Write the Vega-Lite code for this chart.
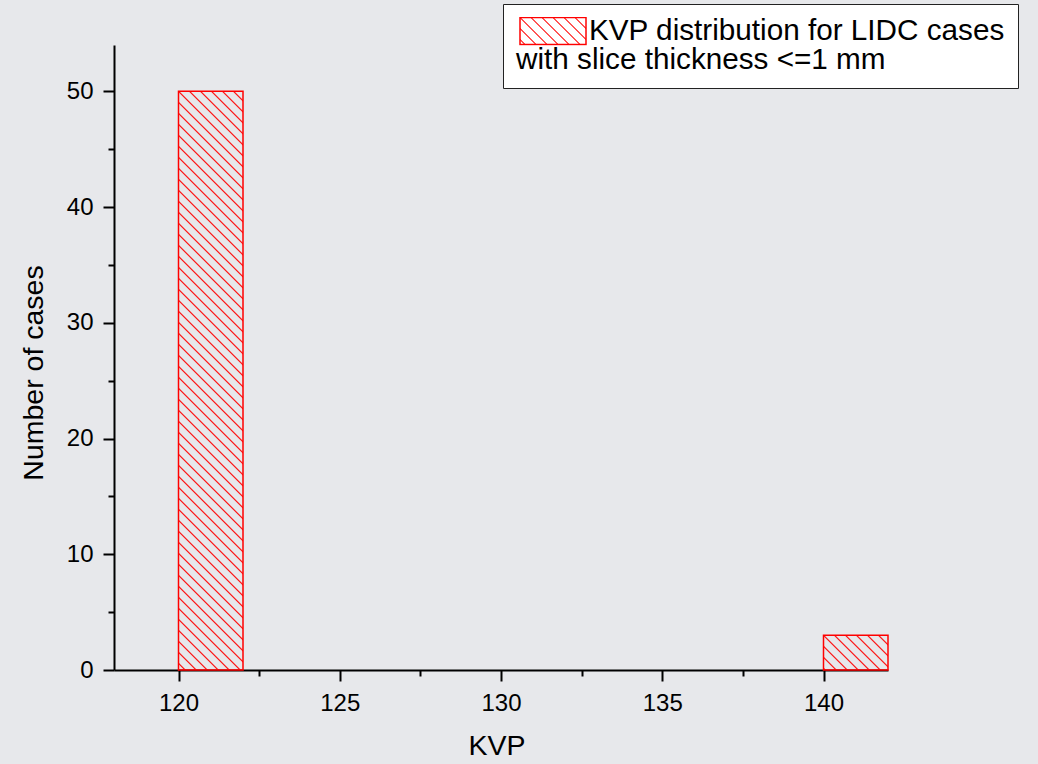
{
  "$schema": "https://vega.github.io/schema/vega-lite/v6.json",
  "width": 774,
  "height": 625,
  "autosize": {"type": "none"},
  "padding": {"left": 114, "top": 45, "right": 150, "bottom": 94},
  "background": "#e7e8eb",
  "config": {"view": {"stroke": null}, "font": "Liberation Sans"},
  "data": {"values": [
    {"kvp": 120, "kvp_end": 122, "count": 50, "series": "KVP distribution for LIDC cases"},
    {"kvp": 140, "kvp_end": 142, "count": 3, "series": "KVP distribution for LIDC cases"}
  ]},
  "mark": {"type": "rect", "strokeWidth": 1.5},
  "encoding": {
    "x": {
      "field": "kvp", "type": "quantitative", "title": "KVP",
      "scale": {"domain": [118, 142], "nice": false, "zero": false},
      "axis": {
        "values": [120, 122.5, 125, 127.5, 130, 132.5, 135, 137.5, 140],
        "labelExpr": "datum.value % 5 === 0 ? datum.label : ''",
        "tickSize": {"condition": {"test": "datum.value % 5 !== 0", "value": 6}, "value": 11},
        "tickWidth": 2, "tickColor": "#000", "domainColor": "#000", "domainWidth": 2,
        "labelFontSize": 24, "labelColor": "#000", "labelPadding": 10, "labelFlush": false, "labelOverlap": false,
        "titleFontSize": 28.5, "titleFontWeight": "normal", "titleColor": "#000", "titlePadding": 16,
        "titleX": 382.5, "grid": false
      }
    },
    "x2": {"field": "kvp_end"},
    "y": {
      "field": "count", "type": "quantitative", "title": "Number of cases",
      "scale": {"domain": [0, 54], "nice": false},
      "axis": {
        "values": [0, 5, 10, 15, 20, 25, 30, 35, 40, 45, 50],
        "labelExpr": "datum.value % 10 === 0 ? datum.label : ''",
        "tickSize": {"condition": {"test": "datum.value % 10 !== 0", "value": 6}, "value": 11},
        "tickWidth": 2, "tickColor": "#000", "domainColor": "#000", "domainWidth": 2,
        "labelFontSize": 24, "labelColor": "#000", "labelPadding": 10, "labelFlush": false, "labelOverlap": false,
        "titleFontSize": 28.5, "titleFontWeight": "normal", "titleColor": "#000", "titlePadding": 18,
        "titleY": 327.5, "grid": false
      }
    },
    "y2": {"datum": 0},
    "fill": {
      "condition": [
        {"test": "datum.kvp == 120", "value": {
          "gradient": "linear", "x1": 0, "y1": 1.036807, "x2": 0.190236, "y2": -0.670005,
          "stops": [
            {"offset": 0.0265, "color": "rgba(255,0,0,0)"}, {"offset": 0.028, "color": "#ff0000"}, {"offset": 0.0295, "color": "rgba(255,0,0,0)"},
            {"offset": 0.0375, "color": "rgba(255,0,0,0)"}, {"offset": 0.039, "color": "#ff0000"}, {"offset": 0.0405, "color": "rgba(255,0,0,0)"},
            {"offset": 0.0485, "color": "rgba(255,0,0,0)"}, {"offset": 0.05, "color": "#ff0000"}, {"offset": 0.0515, "color": "rgba(255,0,0,0)"},
            {"offset": 0.0595, "color": "rgba(255,0,0,0)"}, {"offset": 0.061, "color": "#ff0000"}, {"offset": 0.0625, "color": "rgba(255,0,0,0)"},
            {"offset": 0.0705, "color": "rgba(255,0,0,0)"}, {"offset": 0.072, "color": "#ff0000"}, {"offset": 0.0735, "color": "rgba(255,0,0,0)"},
            {"offset": 0.0815, "color": "rgba(255,0,0,0)"}, {"offset": 0.083, "color": "#ff0000"}, {"offset": 0.0845, "color": "rgba(255,0,0,0)"},
            {"offset": 0.0925, "color": "rgba(255,0,0,0)"}, {"offset": 0.094, "color": "#ff0000"}, {"offset": 0.0955, "color": "rgba(255,0,0,0)"},
            {"offset": 0.1035, "color": "rgba(255,0,0,0)"}, {"offset": 0.105, "color": "#ff0000"}, {"offset": 0.1065, "color": "rgba(255,0,0,0)"},
            {"offset": 0.1145, "color": "rgba(255,0,0,0)"}, {"offset": 0.116, "color": "#ff0000"}, {"offset": 0.1175, "color": "rgba(255,0,0,0)"},
            {"offset": 0.1255, "color": "rgba(255,0,0,0)"}, {"offset": 0.127, "color": "#ff0000"}, {"offset": 0.1285, "color": "rgba(255,0,0,0)"},
            {"offset": 0.1365, "color": "rgba(255,0,0,0)"}, {"offset": 0.138, "color": "#ff0000"}, {"offset": 0.1395, "color": "rgba(255,0,0,0)"},
            {"offset": 0.1475, "color": "rgba(255,0,0,0)"}, {"offset": 0.149, "color": "#ff0000"}, {"offset": 0.1505, "color": "rgba(255,0,0,0)"},
            {"offset": 0.1585, "color": "rgba(255,0,0,0)"}, {"offset": 0.16, "color": "#ff0000"}, {"offset": 0.1615, "color": "rgba(255,0,0,0)"},
            {"offset": 0.1695, "color": "rgba(255,0,0,0)"}, {"offset": 0.171, "color": "#ff0000"}, {"offset": 0.1725, "color": "rgba(255,0,0,0)"},
            {"offset": 0.1805, "color": "rgba(255,0,0,0)"}, {"offset": 0.182, "color": "#ff0000"}, {"offset": 0.1835, "color": "rgba(255,0,0,0)"},
            {"offset": 0.1915, "color": "rgba(255,0,0,0)"}, {"offset": 0.193, "color": "#ff0000"}, {"offset": 0.1945, "color": "rgba(255,0,0,0)"},
            {"offset": 0.2025, "color": "rgba(255,0,0,0)"}, {"offset": 0.204, "color": "#ff0000"}, {"offset": 0.2055, "color": "rgba(255,0,0,0)"},
            {"offset": 0.2135, "color": "rgba(255,0,0,0)"}, {"offset": 0.215, "color": "#ff0000"}, {"offset": 0.2165, "color": "rgba(255,0,0,0)"},
            {"offset": 0.2245, "color": "rgba(255,0,0,0)"}, {"offset": 0.226, "color": "#ff0000"}, {"offset": 0.2275, "color": "rgba(255,0,0,0)"},
            {"offset": 0.2355, "color": "rgba(255,0,0,0)"}, {"offset": 0.237, "color": "#ff0000"}, {"offset": 0.2385, "color": "rgba(255,0,0,0)"},
            {"offset": 0.2465, "color": "rgba(255,0,0,0)"}, {"offset": 0.248, "color": "#ff0000"}, {"offset": 0.2495, "color": "rgba(255,0,0,0)"},
            {"offset": 0.2575, "color": "rgba(255,0,0,0)"}, {"offset": 0.259, "color": "#ff0000"}, {"offset": 0.2605, "color": "rgba(255,0,0,0)"},
            {"offset": 0.2685, "color": "rgba(255,0,0,0)"}, {"offset": 0.27, "color": "#ff0000"}, {"offset": 0.2715, "color": "rgba(255,0,0,0)"},
            {"offset": 0.2795, "color": "rgba(255,0,0,0)"}, {"offset": 0.281, "color": "#ff0000"}, {"offset": 0.2825, "color": "rgba(255,0,0,0)"},
            {"offset": 0.2905, "color": "rgba(255,0,0,0)"}, {"offset": 0.292, "color": "#ff0000"}, {"offset": 0.2935, "color": "rgba(255,0,0,0)"},
            {"offset": 0.3015, "color": "rgba(255,0,0,0)"}, {"offset": 0.303, "color": "#ff0000"}, {"offset": 0.3045, "color": "rgba(255,0,0,0)"},
            {"offset": 0.3125, "color": "rgba(255,0,0,0)"}, {"offset": 0.314, "color": "#ff0000"}, {"offset": 0.3155, "color": "rgba(255,0,0,0)"},
            {"offset": 0.3235, "color": "rgba(255,0,0,0)"}, {"offset": 0.325, "color": "#ff0000"}, {"offset": 0.3265, "color": "rgba(255,0,0,0)"},
            {"offset": 0.3345, "color": "rgba(255,0,0,0)"}, {"offset": 0.336, "color": "#ff0000"}, {"offset": 0.3375, "color": "rgba(255,0,0,0)"},
            {"offset": 0.3455, "color": "rgba(255,0,0,0)"}, {"offset": 0.347, "color": "#ff0000"}, {"offset": 0.3485, "color": "rgba(255,0,0,0)"},
            {"offset": 0.3565, "color": "rgba(255,0,0,0)"}, {"offset": 0.358, "color": "#ff0000"}, {"offset": 0.3595, "color": "rgba(255,0,0,0)"},
            {"offset": 0.3675, "color": "rgba(255,0,0,0)"}, {"offset": 0.369, "color": "#ff0000"}, {"offset": 0.3705, "color": "rgba(255,0,0,0)"},
            {"offset": 0.3785, "color": "rgba(255,0,0,0)"}, {"offset": 0.38, "color": "#ff0000"}, {"offset": 0.3815, "color": "rgba(255,0,0,0)"},
            {"offset": 0.3895, "color": "rgba(255,0,0,0)"}, {"offset": 0.391, "color": "#ff0000"}, {"offset": 0.3925, "color": "rgba(255,0,0,0)"},
            {"offset": 0.4005, "color": "rgba(255,0,0,0)"}, {"offset": 0.402, "color": "#ff0000"}, {"offset": 0.4035, "color": "rgba(255,0,0,0)"},
            {"offset": 0.4115, "color": "rgba(255,0,0,0)"}, {"offset": 0.413, "color": "#ff0000"}, {"offset": 0.4145, "color": "rgba(255,0,0,0)"},
            {"offset": 0.4225, "color": "rgba(255,0,0,0)"}, {"offset": 0.424, "color": "#ff0000"}, {"offset": 0.4255, "color": "rgba(255,0,0,0)"},
            {"offset": 0.4335, "color": "rgba(255,0,0,0)"}, {"offset": 0.435, "color": "#ff0000"}, {"offset": 0.4365, "color": "rgba(255,0,0,0)"},
            {"offset": 0.4445, "color": "rgba(255,0,0,0)"}, {"offset": 0.446, "color": "#ff0000"}, {"offset": 0.4475, "color": "rgba(255,0,0,0)"},
            {"offset": 0.4555, "color": "rgba(255,0,0,0)"}, {"offset": 0.457, "color": "#ff0000"}, {"offset": 0.4585, "color": "rgba(255,0,0,0)"},
            {"offset": 0.4665, "color": "rgba(255,0,0,0)"}, {"offset": 0.468, "color": "#ff0000"}, {"offset": 0.4695, "color": "rgba(255,0,0,0)"},
            {"offset": 0.4775, "color": "rgba(255,0,0,0)"}, {"offset": 0.479, "color": "#ff0000"}, {"offset": 0.4805, "color": "rgba(255,0,0,0)"},
            {"offset": 0.4885, "color": "rgba(255,0,0,0)"}, {"offset": 0.49, "color": "#ff0000"}, {"offset": 0.4915, "color": "rgba(255,0,0,0)"},
            {"offset": 0.4995, "color": "rgba(255,0,0,0)"}, {"offset": 0.501, "color": "#ff0000"}, {"offset": 0.5025, "color": "rgba(255,0,0,0)"},
            {"offset": 0.5105, "color": "rgba(255,0,0,0)"}, {"offset": 0.512, "color": "#ff0000"}, {"offset": 0.5135, "color": "rgba(255,0,0,0)"},
            {"offset": 0.5215, "color": "rgba(255,0,0,0)"}, {"offset": 0.523, "color": "#ff0000"}, {"offset": 0.5245, "color": "rgba(255,0,0,0)"},
            {"offset": 0.5325, "color": "rgba(255,0,0,0)"}, {"offset": 0.534, "color": "#ff0000"}, {"offset": 0.5355, "color": "rgba(255,0,0,0)"},
            {"offset": 0.5435, "color": "rgba(255,0,0,0)"}, {"offset": 0.545, "color": "#ff0000"}, {"offset": 0.5465, "color": "rgba(255,0,0,0)"},
            {"offset": 0.5545, "color": "rgba(255,0,0,0)"}, {"offset": 0.556, "color": "#ff0000"}, {"offset": 0.5575, "color": "rgba(255,0,0,0)"},
            {"offset": 0.5655, "color": "rgba(255,0,0,0)"}, {"offset": 0.567, "color": "#ff0000"}, {"offset": 0.5685, "color": "rgba(255,0,0,0)"},
            {"offset": 0.5765, "color": "rgba(255,0,0,0)"}, {"offset": 0.578, "color": "#ff0000"}, {"offset": 0.5795, "color": "rgba(255,0,0,0)"},
            {"offset": 0.5875, "color": "rgba(255,0,0,0)"}, {"offset": 0.589, "color": "#ff0000"}, {"offset": 0.5905, "color": "rgba(255,0,0,0)"},
            {"offset": 0.5985, "color": "rgba(255,0,0,0)"}, {"offset": 0.6, "color": "#ff0000"}, {"offset": 0.6015, "color": "rgba(255,0,0,0)"},
            {"offset": 0.6095, "color": "rgba(255,0,0,0)"}, {"offset": 0.611, "color": "#ff0000"}, {"offset": 0.6125, "color": "rgba(255,0,0,0)"},
            {"offset": 0.6205, "color": "rgba(255,0,0,0)"}, {"offset": 0.622, "color": "#ff0000"}, {"offset": 0.6235, "color": "rgba(255,0,0,0)"},
            {"offset": 0.6315, "color": "rgba(255,0,0,0)"}, {"offset": 0.633, "color": "#ff0000"}, {"offset": 0.6345, "color": "rgba(255,0,0,0)"},
            {"offset": 0.6425, "color": "rgba(255,0,0,0)"}, {"offset": 0.644, "color": "#ff0000"}, {"offset": 0.6455, "color": "rgba(255,0,0,0)"},
            {"offset": 0.6535, "color": "rgba(255,0,0,0)"}, {"offset": 0.655, "color": "#ff0000"}, {"offset": 0.6565, "color": "rgba(255,0,0,0)"}
          ]
        }},
        {"test": "datum.kvp == 140", "value": {
          "gradient": "linear", "x1": 0, "y1": 1.008065, "x2": 1.202067, "y2": 0.360999,
          "stops": [
            {"offset": 0.005, "color": "rgba(255,0,0,0)"}, {"offset": 0.02, "color": "#ff0000"}, {"offset": 0.035, "color": "rgba(255,0,0,0)"},
            {"offset": 0.115, "color": "rgba(255,0,0,0)"}, {"offset": 0.13, "color": "#ff0000"}, {"offset": 0.145, "color": "rgba(255,0,0,0)"},
            {"offset": 0.225, "color": "rgba(255,0,0,0)"}, {"offset": 0.24, "color": "#ff0000"}, {"offset": 0.255, "color": "rgba(255,0,0,0)"},
            {"offset": 0.335, "color": "rgba(255,0,0,0)"}, {"offset": 0.35, "color": "#ff0000"}, {"offset": 0.365, "color": "rgba(255,0,0,0)"},
            {"offset": 0.445, "color": "rgba(255,0,0,0)"}, {"offset": 0.46, "color": "#ff0000"}, {"offset": 0.475, "color": "rgba(255,0,0,0)"},
            {"offset": 0.555, "color": "rgba(255,0,0,0)"}, {"offset": 0.57, "color": "#ff0000"}, {"offset": 0.585, "color": "rgba(255,0,0,0)"},
            {"offset": 0.665, "color": "rgba(255,0,0,0)"}, {"offset": 0.68, "color": "#ff0000"}, {"offset": 0.695, "color": "rgba(255,0,0,0)"},
            {"offset": 0.775, "color": "rgba(255,0,0,0)"}, {"offset": 0.79, "color": "#ff0000"}, {"offset": 0.805, "color": "rgba(255,0,0,0)"},
            {"offset": 0.885, "color": "rgba(255,0,0,0)"}, {"offset": 0.9, "color": "#ff0000"}, {"offset": 0.915, "color": "rgba(255,0,0,0)"}
          ]
        }}
      ],
      "value": {
        "gradient": "linear", "x1": -0.454545, "y1": 0, "x2": 0.843395, "y2": -0.53097,
        "stops": [
          {"offset": 0.065, "color": "rgba(255,0,0,0)"}, {"offset": 0.08, "color": "#ff0000"}, {"offset": 0.095, "color": "rgba(255,0,0,0)"},
          {"offset": 0.175, "color": "rgba(255,0,0,0)"}, {"offset": 0.19, "color": "#ff0000"}, {"offset": 0.205, "color": "rgba(255,0,0,0)"},
          {"offset": 0.285, "color": "rgba(255,0,0,0)"}, {"offset": 0.3, "color": "#ff0000"}, {"offset": 0.315, "color": "rgba(255,0,0,0)"},
          {"offset": 0.395, "color": "rgba(255,0,0,0)"}, {"offset": 0.41, "color": "#ff0000"}, {"offset": 0.425, "color": "rgba(255,0,0,0)"},
          {"offset": 0.505, "color": "rgba(255,0,0,0)"}, {"offset": 0.52, "color": "#ff0000"}, {"offset": 0.535, "color": "rgba(255,0,0,0)"},
          {"offset": 0.615, "color": "rgba(255,0,0,0)"}, {"offset": 0.63, "color": "#ff0000"}, {"offset": 0.645, "color": "rgba(255,0,0,0)"},
          {"offset": 0.725, "color": "rgba(255,0,0,0)"}, {"offset": 0.74, "color": "#ff0000"}, {"offset": 0.755, "color": "rgba(255,0,0,0)"},
          {"offset": 0.835, "color": "rgba(255,0,0,0)"}, {"offset": 0.85, "color": "#ff0000"}, {"offset": 0.865, "color": "rgba(255,0,0,0)"}
        ]
      }
    },
    "stroke": {
      "field": "series", "type": "nominal",
      "scale": {"range": ["#ff0000"]},
      "legend": {
        "title": "with slice thickness <=1 mm",
        "orient": "none", "legendX": 389, "legendY": -41,
        "titleOrient": "bottom", "titleAnchor": "start",
        "titleFontSize": 29.7, "titleFontWeight": "normal", "titleColor": "#000", "titleLimit": 1000, "titlePadding": 0,
        "labelFontSize": 29.7, "labelColor": "#000", "labelLimit": 1000, "labelOffset": 2,
        "symbolType": "M-1,-0.4091H1V0.4091H-1Z", "symbolSize": 4356, "symbolStrokeWidth": 1.5, "symbolOffset": 3,
        "clipHeight": 28,
        "fillColor": "#ffffff", "strokeColor": "#222222", "padding": 13, "cornerRadius": 0
      }
    }
  }
}
